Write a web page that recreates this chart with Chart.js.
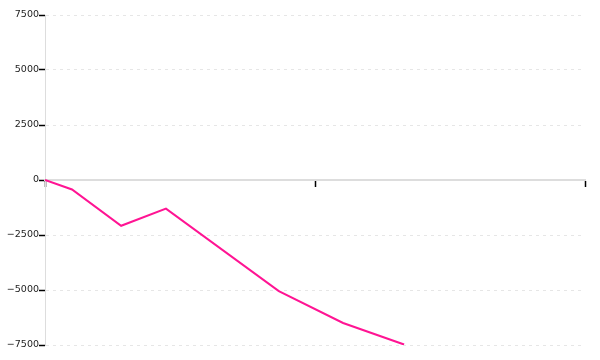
<!DOCTYPE html>
<html>
<head>
<meta charset="utf-8">
<script src="https://cdn.jsdelivr.net/npm/chart.js@4/dist/chart.umd.min.js"></script>
<style>
html,body{margin:0;padding:0;background:#fff;}
#wrap{width:600px;height:360px;}
</style>
</head>
<body>
<div id="wrap"><canvas id="c" width="600" height="360"></canvas></div>
<script>
const xValues = [0, 5, 14.1, 22.4, 43.3, 55.2, 66.5];
const yValues = [0, -430, -2080, -1300, -5050, -6500, -7480];
const yTicks = [-7500, -5000, -2500, 0, 2500, 5000, 7500];
const xTicks = [0, 50, 100];

const points = xValues.map((x, i) => ({x: x, y: yValues[i]}));

new Chart(document.getElementById('c'), {
  type: 'line',
  data: {
    datasets: [{
      data: points,
      borderColor: '#ff1493',
      backgroundColor: '#ff1493',
      borderWidth: 2,
      pointRadius: 0,
      tension: 0,
      fill: false
    }]
  },
  options: {
    responsive: false,
    animation: false,
    layout: {padding: {top: 15, bottom: 15, right: 15, left: 0}},
    plugins: {legend: {display: false}, tooltip: {enabled: false}},
    scales: {
      x: {
        type: 'linear',
        position: {y: 0},
        min: xTicks[0],
        max: xTicks[xTicks.length - 1],
        afterBuildTicks: s => { s.ticks = xTicks.map(v => ({value: v})); },
        ticks: {display: false},
        grid: {display: true, drawOnChartArea: false, drawTicks: true, tickLength: 6, tickColor: '#000', tickWidth: 1.5},
        border: {display: true, color: '#dddddd', width: 2}
      },
      y: {
        type: 'linear',
        min: yTicks[0],
        max: yTicks[yTicks.length - 1],
        afterBuildTicks: s => { s.ticks = yTicks.map(v => ({value: v})); },
        afterFit: s => { s.width = 45; },
        ticks: {
          color: '#222',
          font: {family: 'DejaVu Sans', size: 9.5},
          padding: 0,
          callback: v => String(v).replace('-', '\u2212')
        },
        grid: {color: '#e6e6e6', lineWidth: 1, drawTicks: true, tickLength: 6, tickColor: '#000', tickWidth: 1.5},
        border: {display: true, color: '#dddddd', width: 1, dash: [3, 4]}
      }
    }
  }
});
</script>
</body>
</html>
